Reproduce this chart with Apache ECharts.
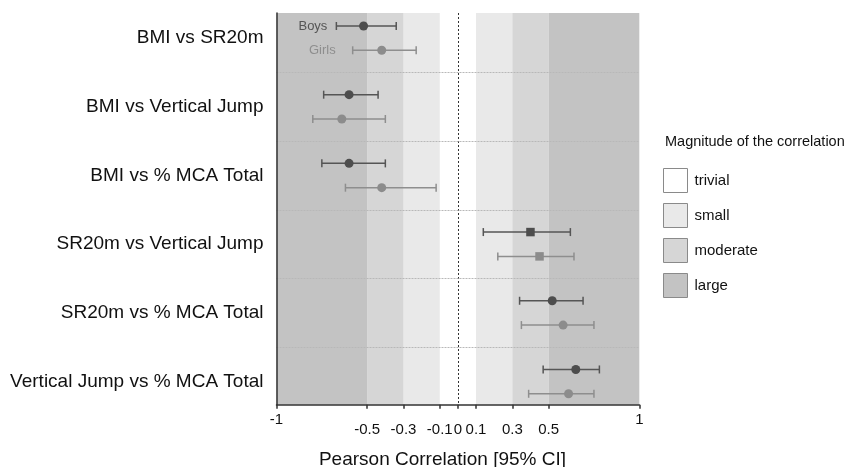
<!DOCTYPE html>
<html>
<head>
<meta charset="utf-8">
<script src="https://cdn.jsdelivr.net/npm/echarts@6/dist/echarts.min.js"></script>
<style>
  html, body { margin: 0; padding: 0; background: #ffffff; }
  #chart { width: 851px; height: 467px; }
</style>
</head>
<body>
<div id="chart"></div>
<script>
// Pairs of variables, top to bottom
const categories = [
  'BMI vs SR20m',
  'BMI vs Vertical Jump',
  'BMI vs % MCA Total',
  'SR20m vs Vertical Jump',
  'SR20m vs % MCA Total',
  'Vertical Jump vs % MCA Total'
];

// Pearson r with 95% confidence limits
const boysR    = [-0.52, -0.60, -0.60, 0.40, 0.52, 0.65];
const boysLow  = [-0.67, -0.74, -0.75, 0.14, 0.34, 0.47];
const boysHigh = [-0.34, -0.44, -0.40, 0.62, 0.69, 0.78];

const girlsR    = [-0.42, -0.64, -0.42, 0.45, 0.58, 0.61];
const girlsLow  = [-0.58, -0.80, -0.62, 0.22, 0.35, 0.39];
const girlsHigh = [-0.23, -0.40, -0.12, 0.64, 0.75, 0.75];

// Marker shape per pair
const markerShapes = ['circle', 'circle', 'circle', 'rect', 'circle', 'circle'];

// Axis ticks and labels
const tickValues = [-1, -0.5, -0.3, -0.1, 0, 0.1, 0.3, 0.5, 1];
const outerLabels = [-1, 1];
const innerLabels = [-0.5, -0.3, -0.1, 0, 0.1, 0.3, 0.5];

// Magnitude thresholds for |r|
const magnitudeNames = ['trivial', 'small', 'moderate', 'large'];
const magnitudeBounds = [0, 0.1, 0.3, 0.5, 1];
const magnitudeColors = ['#ffffff', '#e9e9e9', '#d6d6d6', '#c3c3c3'];

const FONT = 'Liberation Sans, Arial, Helvetica, sans-serif';
const ROW_OFFSET = 0.177;
const BOYS_COLOR = '#555555';
const GIRLS_COLOR = '#8e8e8e';

// One series per magnitude; its shaded vertical bands are mark areas
const bandSeries = magnitudeNames.map((name, k) => {
  const lo = magnitudeBounds[k], hi = magnitudeBounds[k + 1];
  const spans = lo === 0 ? [[-hi, hi]] : [[-hi, -lo], [lo, hi]];
  return {
    name: name,
    type: 'custom',
    silent: true,
    z: 1,
    itemStyle: { color: magnitudeColors[k] },
    data: [],
    renderItem: function () { return null; },
    markArea: {
      silent: true,
      animation: false,
      itemStyle: { color: magnitudeColors[k], opacity: 1 },
      label: { show: false },
      data: spans.map(s => [{ xAxis: s[0] }, { xAxis: s[1] }])
    }
  };
});

function ciData(low, high, offset) {
  return categories.map((c, i) => [low[i], high[i], i + offset]);
}

function ciSeries(name, low, high, offset, color, labelGap) {
  return {
    name: name + ' CI',
    type: 'custom',
    silent: true,
    z: 5,
    encode: { x: [0, 1], y: 2 },
    data: ciData(low, high, offset),
    renderItem: function (params, api) {
      const a = api.coord([api.value(0), api.value(2)]);
      const b = api.coord([api.value(1), api.value(2)]);
      const cap = 4;
      const style = { stroke: color, lineWidth: 1.5 };
      const children = [
        { type: 'line', shape: { x1: a[0], y1: a[1], x2: b[0], y2: b[1] }, style: style },
        { type: 'line', shape: { x1: a[0], y1: a[1] - cap, x2: a[0], y2: a[1] + cap }, style: style },
        { type: 'line', shape: { x1: b[0], y1: b[1] - cap, x2: b[0], y2: b[1] + cap }, style: style }
      ];
      if (params.dataIndex === 0) {
        children.push({
          type: 'text',
          style: {
            text: name, x: a[0] - labelGap, y: a[1],
            align: 'right', verticalAlign: 'middle',
            fill: color, font: '13px ' + FONT
          }
        });
      }
      return { type: 'group', children: children };
    }
  };
}

function pointSeries(name, r, offset, color, size) {
  return {
    name: name,
    type: 'scatter',
    silent: true,
    z: 6,
    itemStyle: { color: color, opacity: 1 },
    data: categories.map((c, i) => ({
      value: [r[i], i + offset],
      symbol: markerShapes[i],
      symbolSize: markerShapes[i] === 'rect' ? size - 0.5 : size
    }))
  };
}

// Reference lines: r = 0 and separators between pairs
const guideSeries = {
  name: 'guides',
  type: 'custom',
  silent: true,
  z: 3,
  data: [],
  renderItem: function () { return null; },
  markLine: {
    silent: true,
    symbol: 'none',
    label: { show: false },
    animation: false,
    data: [
      { xAxis: 0, lineStyle: { color: '#333333', width: 1, type: [2, 2] } }
    ].concat(categories.slice(1).map((c, i) => ({
      yAxis: i + 0.5,
      lineStyle: { color: '#b8b8b8', width: 1, type: [2, 1] }
    })))
  }
};

const chart = echarts.init(document.getElementById('chart'), null, { renderer: 'canvas' });

chart.setOption({
  animation: false,
  backgroundColor: '#ffffff',
  textStyle: { fontFamily: FONT },
  grid: { left: 276.5, right: 211.7, top: 13, bottom: 62.3, containLabel: false },
  xAxis: [
    {
      type: 'value',
      min: -1, max: 1,
      z: 10,
      axisLine: { show: true, onZero: false, lineStyle: { color: '#333333', width: 1.5 } },
      axisTick: { show: true, length: 4, customValues: tickValues, lineStyle: { color: '#333333', width: 1.5 } },
      axisLabel: { customValues: outerLabels, margin: 8, fontSize: 15, color: '#111111', fontFamily: FONT },
      splitLine: { show: false }
    },
    {
      type: 'value',
      position: 'bottom',
      min: -1, max: 1,
      z: 10,
      axisLine: { show: false, onZero: false },
      axisTick: { show: false },
      axisLabel: { customValues: innerLabels, margin: 18, fontSize: 15, color: '#111111', fontFamily: FONT },
      splitLine: { show: false }
    }
  ],
  yAxis: {
    type: 'value',
    inverse: true,
    min: -0.366, max: 5.336,
    z: 10,
    axisLine: { show: true, onZero: false, lineStyle: { color: '#333333', width: 1.5 } },
    axisTick: { show: false },
    axisLabel: {
      customValues: categories.map((c, i) => i),
      formatter: v => categories[Math.round(v)] || '',
      fontSize: 19, color: '#111111', margin: 13, fontFamily: FONT
    },
    splitLine: { show: false }
  },
  legend: {
    orient: 'vertical',
    left: 658, top: 163,
    itemWidth: 24, itemHeight: 24, itemGap: 10,
    icon: 'rect',
    selectedMode: false,
    data: magnitudeNames,
    itemStyle: { borderColor: '#8a8a8a', borderWidth: 1 },
    textStyle: { fontSize: 15, color: '#111111', fontFamily: FONT, padding: [0, 0, 0, 2] }
  },
  graphic: [
    {
      type: 'text', left: 665, top: 134,
      style: { text: 'Magnitude of the correlation', font: '14.5px ' + FONT, fill: '#111111' }
    },
    {
      type: 'text', x: 442.5, y: 460,
      style: { text: 'Pearson Correlation [95% CI]', font: '19px ' + FONT, fill: '#111111', align: 'center', verticalAlign: 'middle' }
    }
  ],
  series: bandSeries.concat([
    guideSeries,
    ciSeries('Boys', boysLow, boysHigh, -ROW_OFFSET, BOYS_COLOR, 9),
    ciSeries('Girls', girlsLow, girlsHigh, ROW_OFFSET, GIRLS_COLOR, 17),
    pointSeries('Boys', boysR, -ROW_OFFSET, '#4d4d4d', 9),
    pointSeries('Girls', girlsR, ROW_OFFSET, '#8c8c8c', 9)
  ])
});
</script>
</body>
</html>
